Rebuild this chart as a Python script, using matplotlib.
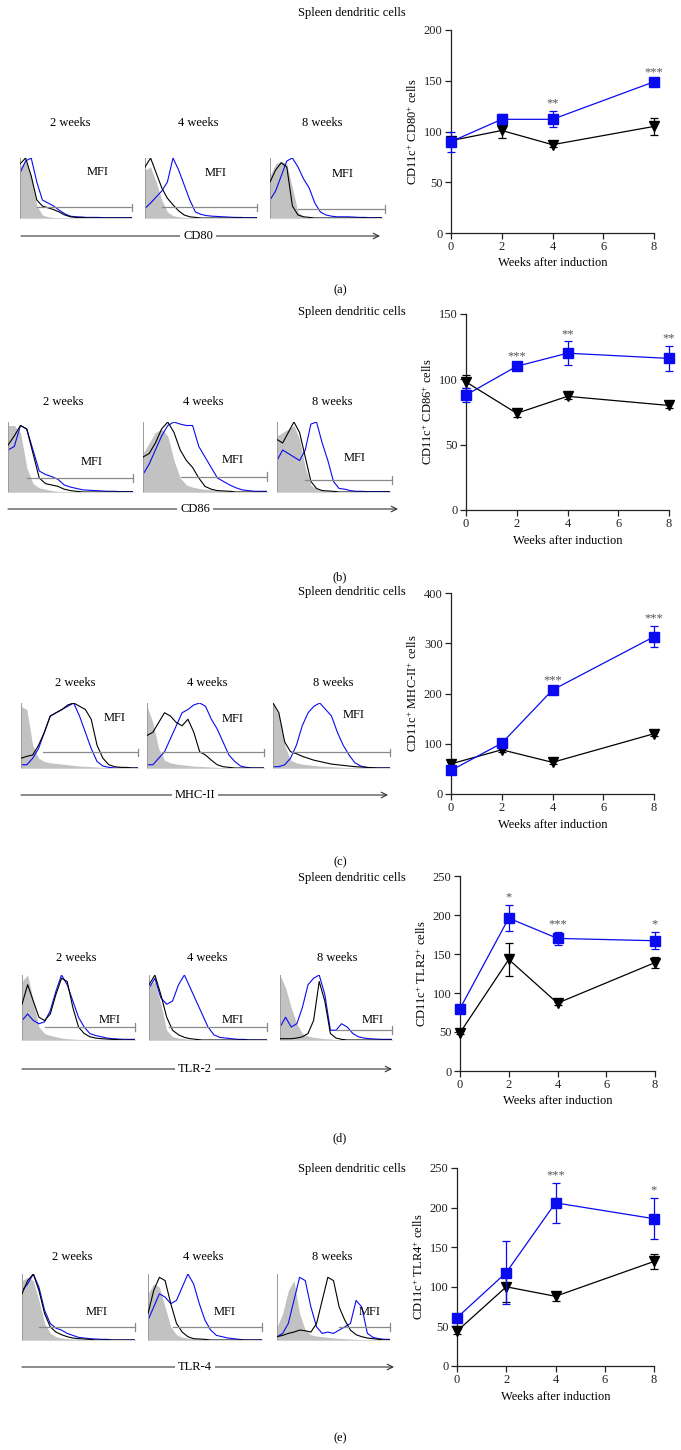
import matplotlib
matplotlib.use("Agg")
import matplotlib.pyplot as plt
import numpy as np

plt.rcParams["font.family"] = ["Liberation Serif", "DejaVu Serif"]
plt.rcParams["mathtext.fontset"] = "custom"
plt.rcParams["mathtext.rm"] = "Liberation Serif"
plt.rcParams["mathtext.it"] = "Liberation Serif:italic"

# ---------------- data: line charts ----------------
weeks = [0, 2, 4, 8]
week_labels = ["2 weeks", "4 weeks", "8 weeks"]

cd80_ctrl = [91, 101, 87, 105]
cd80_ctrl_err = [3, 7, 2, 8]
cd80_treat = [90, 112, 112, 149]
cd80_treat_err = [10, 5, 8, 2]
cd80_stars = ["", "", "**", "***"]

cd86_ctrl = [98, 74, 87, 80]
cd86_ctrl_err = [5, 3, 2, 2]
cd86_treat = [88, 110, 120, 116]
cd86_treat_err = [5, 2, 9, 9.5]
cd86_stars = ["", "***", "**", "**"]

mhc_ctrl = [60, 88, 63, 120]
mhc_ctrl_err = [3, 4, 3, 4]
mhc_treat = [47, 101, 207, 313]
mhc_treat_err = [5, 5, 5, 21]
mhc_stars = ["", "", "***", "***"]

tlr2_ctrl = [49, 143, 87, 139]
tlr2_ctrl_err = [2, 21, 2, 7]
tlr2_treat = [80, 196, 170, 167]
tlr2_treat_err = [3, 17, 8, 11]
tlr2_stars = ["", "*", "***", "*"]

tlr4_ctrl = [44, 100, 88, 132]
tlr4_ctrl_err = [3, 19, 6, 9]
tlr4_treat = [61, 118, 206, 186]
tlr4_treat_err = [3, 40, 25, 26]
tlr4_stars = ["", "", "***", "*"]

# ---------------- data: flow histograms (normalised counts on 21 bins) ----------------
cd80_2w_iso = [0.85, 0.95, 0.7, 0.2, 0.05, 0.02, 0.01, 0, 0, 0, 0, 0, 0, 0, 0, 0, 0, 0, 0, 0, 0]
cd80_2w_ctrl = [0.9, 1.0, 0.7, 0.3, 0.2, 0.17, 0.14, 0.1, 0.05, 0.02, 0.01, 0.01, 0, 0, 0, 0, 0, 0, 0, 0, 0]
cd80_2w_treat = [0.75, 0.95, 1.0, 0.6, 0.3, 0.25, 0.2, 0.13, 0.07, 0.03, 0.02, 0.015, 0.01, 0.01, 0.01, 0.005, 0.005, 0.005, 0.005, 0.005, 0.005]
cd80_4w_iso = [0.8, 0.85, 0.6, 0.3, 0.1, 0.04, 0.02, 0.01, 0, 0, 0, 0, 0, 0, 0, 0, 0, 0, 0, 0, 0]
cd80_4w_ctrl = [0.85, 1.0, 0.75, 0.5, 0.33, 0.22, 0.12, 0.05, 0.02, 0.01, 0, 0, 0, 0, 0, 0, 0, 0, 0, 0, 0]
cd80_4w_treat = [0.16, 0.25, 0.35, 0.45, 0.6, 1.0, 0.8, 0.55, 0.3, 0.1, 0.06, 0.04, 0.03, 0.025, 0.02, 0.015, 0.01, 0.01, 0.005, 0.005, 0.005]
cd80_8w_iso = [0.7, 0.9, 0.95, 0.9, 0.5, 0.1, 0.02, 0.01, 0, 0, 0, 0, 0, 0, 0, 0, 0, 0, 0, 0, 0]
cd80_8w_ctrl = [0.6, 0.8, 0.92, 0.85, 0.2, 0.05, 0.02, 0.01, 0, 0, 0, 0, 0, 0, 0, 0, 0, 0, 0, 0, 0]
cd80_8w_treat = [0.3, 0.45, 0.7, 0.95, 1.0, 0.85, 0.65, 0.5, 0.25, 0.1, 0.05, 0.03, 0.02, 0.02, 0.02, 0.015, 0.01, 0.01, 0.005, 0.005, 0.005]

cd86_2w_iso = [0.95, 0.95, 0.85, 0.35, 0.12, 0.06, 0.04, 0.02, 0.01, 0, 0, 0, 0, 0, 0, 0, 0, 0, 0, 0, 0]
cd86_2w_ctrl = [0.67, 0.8, 0.95, 0.9, 0.55, 0.2, 0.12, 0.1, 0.08, 0.04, 0.02, 0.01, 0, 0, 0, 0, 0, 0, 0, 0, 0]
cd86_2w_treat = [0.6, 0.65, 0.95, 0.9, 0.6, 0.3, 0.25, 0.22, 0.18, 0.1, 0.07, 0.05, 0.03, 0.025, 0.02, 0.015, 0.01, 0.01, 0.005, 0.005, 0.005]
cd86_4w_iso = [0.55, 0.7, 0.85, 0.9, 0.8, 0.45, 0.2, 0.1, 0.07, 0.05, 0.04, 0.03, 0.02, 0.015, 0.01, 0, 0, 0, 0, 0, 0]
cd86_4w_ctrl = [0.5, 0.55, 0.7, 0.9, 1.0, 0.85, 0.6, 0.45, 0.35, 0.2, 0.08, 0.04, 0.02, 0.015, 0.01, 0, 0, 0, 0, 0, 0]
cd86_4w_treat = [0.25, 0.4, 0.6, 0.8, 0.95, 1.0, 0.97, 0.95, 0.95, 0.65, 0.5, 0.35, 0.2, 0.15, 0.1, 0.06, 0.03, 0.02, 0.01, 0.01, 0.01]
cd86_8w_iso = [0.8, 0.85, 0.9, 0.95, 0.75, 0.35, 0.1, 0.04, 0.02, 0.015, 0.01, 0, 0, 0, 0, 0, 0, 0, 0, 0, 0]
cd86_8w_ctrl = [0.75, 0.7, 0.85, 1.0, 0.85, 0.5, 0.15, 0.05, 0.02, 0.015, 0.01, 0, 0, 0, 0, 0, 0, 0, 0, 0, 0]
cd86_8w_treat = [0.45, 0.6, 0.55, 0.5, 0.45, 0.6, 0.97, 1.0, 0.7, 0.45, 0.15, 0.05, 0.04, 0.02, 0.01, 0.01, 0.005, 0.005, 0.005, 0.005, 0.005]

mhc_2w_iso = [0.95, 0.9, 0.35, 0.15, 0.1, 0.08, 0.07, 0.06, 0.05, 0.04, 0.03, 0.025, 0.02, 0.015, 0.01, 0.005, 0, 0, 0, 0, 0]
mhc_2w_ctrl = [0.15, 0.18, 0.2, 0.35, 0.55, 0.8, 0.85, 0.9, 0.97, 1.0, 0.95, 0.9, 0.75, 0.35, 0.15, 0.05, 0.02, 0.01, 0.01, 0, 0]
mhc_2w_treat = [0.05, 0.05, 0.15, 0.3, 0.55, 0.8, 0.85, 0.9, 0.95, 1.0, 0.8, 0.55, 0.3, 0.1, 0.03, 0.01, 0, 0, 0, 0, 0]
mhc_4w_iso = [0.95, 0.7, 0.3, 0.12, 0.08, 0.06, 0.05, 0.04, 0.03, 0.025, 0.02, 0.015, 0.01, 0.005, 0, 0, 0, 0, 0, 0, 0]
mhc_4w_ctrl = [0.5, 0.55, 0.7, 0.85, 0.8, 0.7, 0.65, 0.75, 0.55, 0.25, 0.2, 0.12, 0.05, 0.02, 0.01, 0, 0, 0, 0, 0, 0]
mhc_4w_treat = [0.05, 0.05, 0.15, 0.25, 0.45, 0.65, 0.85, 0.9, 0.97, 1.0, 0.95, 0.75, 0.6, 0.4, 0.2, 0.1, 0.03, 0.01, 0, 0, 0]
mhc_8w_iso = [1.0, 0.8, 0.35, 0.12, 0.08, 0.06, 0.05, 0.04, 0.03, 0.025, 0.02, 0.015, 0.01, 0.005, 0, 0, 0, 0, 0, 0, 0]
mhc_8w_ctrl = [1.0, 0.85, 0.4, 0.25, 0.22, 0.18, 0.15, 0.12, 0.1, 0.08, 0.06, 0.05, 0.04, 0.03, 0.02, 0.015, 0.01, 0.005, 0, 0, 0]
mhc_8w_treat = [0.02, 0.02, 0.05, 0.15, 0.35, 0.65, 0.85, 0.95, 1.0, 0.9, 0.8, 0.55, 0.35, 0.2, 0.08, 0.03, 0.01, 0, 0, 0, 0]

tlr2_2w_iso = [0.9, 1.0, 0.6, 0.2, 0.1, 0.07, 0.05, 0.03, 0.02, 0.015, 0.01, 0, 0, 0, 0, 0, 0, 0, 0, 0, 0]
tlr2_2w_ctrl = [0.55, 0.85, 0.6, 0.35, 0.3, 0.4, 0.7, 0.95, 0.9, 0.5, 0.2, 0.1, 0.05, 0.03, 0.02, 0.015, 0.01, 0.005, 0, 0, 0]
tlr2_2w_treat = [0.3, 0.4, 0.3, 0.25, 0.28, 0.45, 0.75, 1.0, 0.85, 0.6, 0.35, 0.2, 0.1, 0.07, 0.05, 0.03, 0.02, 0.015, 0.01, 0.01, 0.01]
tlr2_4w_iso = [0.85, 0.9, 0.55, 0.15, 0.05, 0.03, 0.02, 0.01, 0, 0, 0, 0, 0, 0, 0, 0, 0, 0, 0, 0, 0]
tlr2_4w_ctrl = [0.85, 1.0, 0.7, 0.35, 0.15, 0.08, 0.04, 0.02, 0.01, 0, 0, 0, 0, 0, 0, 0, 0, 0, 0, 0, 0]
tlr2_4w_treat = [0.8, 0.95, 0.65, 0.55, 0.6, 0.85, 1.0, 0.8, 0.6, 0.4, 0.2, 0.08, 0.04, 0.03, 0.02, 0.01, 0.01, 0, 0, 0, 0]
tlr2_8w_iso = [1.0, 0.8, 0.5, 0.25, 0.1, 0.06, 0.04, 0.03, 0.02, 0.015, 0.01, 0, 0, 0, 0, 0, 0, 0, 0, 0, 0]
tlr2_8w_ctrl = [0.02, 0.02, 0.02, 0.03, 0.05, 0.1, 0.3, 0.9, 0.6, 0.1, 0.03, 0.01, 0, 0, 0, 0, 0, 0, 0, 0, 0]
tlr2_8w_treat = [0.2, 0.35, 0.2, 0.25, 0.5, 0.85, 0.95, 1.0, 0.7, 0.15, 0.15, 0.25, 0.2, 0.1, 0.05, 0.03, 0.02, 0.015, 0.01, 0.01, 0.01]

tlr4_2w_iso = [0.9, 0.95, 0.9, 0.6, 0.25, 0.1, 0.05, 0.03, 0.02, 0.015, 0.01, 0, 0, 0, 0, 0, 0, 0, 0, 0, 0]
tlr4_2w_ctrl = [0.7, 0.9, 1.0, 0.75, 0.4, 0.2, 0.12, 0.08, 0.05, 0.03, 0.02, 0.015, 0.01, 0, 0, 0, 0, 0, 0, 0, 0]
tlr4_2w_treat = [0.75, 0.85, 1.0, 0.8, 0.45, 0.25, 0.18, 0.15, 0.1, 0.07, 0.04, 0.03, 0.02, 0.015, 0.01, 0.01, 0, 0, 0, 0, 0]
tlr4_4w_iso = [0.7, 0.85, 0.8, 0.5, 0.2, 0.08, 0.04, 0.03, 0.02, 0.015, 0.01, 0, 0, 0, 0, 0, 0, 0, 0, 0, 0]
tlr4_4w_ctrl = [0.4, 0.75, 0.95, 0.9, 0.55, 0.25, 0.12, 0.05, 0.02, 0.015, 0.01, 0, 0, 0, 0, 0, 0, 0, 0, 0, 0]
tlr4_4w_treat = [0.3, 0.5, 0.7, 0.65, 0.55, 0.6, 0.8, 1.0, 0.85, 0.55, 0.3, 0.15, 0.07, 0.05, 0.03, 0.02, 0.01, 0, 0, 0, 0]
tlr4_8w_iso = [0.2, 0.4, 0.75, 0.9, 0.4, 0.15, 0.08, 0.06, 0.05, 0.04, 0.03, 0.025, 0.02, 0.015, 0.01, 0, 0, 0, 0, 0, 0]
tlr4_8w_ctrl = [0.05, 0.07, 0.1, 0.12, 0.15, 0.14, 0.12, 0.25, 0.6, 0.95, 0.9, 0.5, 0.3, 0.15, 0.08, 0.05, 0.03, 0.02, 0.01, 0, 0]
tlr4_8w_treat = [0.05, 0.1, 0.25, 0.6, 0.95, 0.9, 0.5, 0.2, 0.1, 0.12, 0.1, 0.15, 0.2, 0.25, 0.6, 0.5, 0.1, 0.04, 0.02, 0.01, 0.01]

# ---------------- styles / layout (pixels) ----------------
W, H = 681, 1450
BLUE = "#0a0af0"
GRAY = "#c2c2c2"
FS = 9

fig = plt.figure(figsize=(W / 100, H / 100), dpi=100)
ov = fig.add_axes([0, 0, 1, 1])
ov.set_xlim(0, W)
ov.set_ylim(H, 0)
ov.axis("off")


def box(x0, y0, x1, y1):
    return [x0 / W, 1 - y1 / H, (x1 - x0) / W, (y1 - y0) / H]


panels = [
    dict(tag="(a)", marker="CD80", ylabel=r"CD11c$^{+}$ CD80$^{+}$ cells", ymax=200, ystep=50,
         ctrl=cd80_ctrl, ctrl_err=cd80_ctrl_err, treat=cd80_treat, treat_err=cd80_treat_err, stars=cd80_stars,
         hists=[(cd80_2w_iso, cd80_2w_ctrl, cd80_2w_treat), (cd80_4w_iso, cd80_4w_ctrl, cd80_4w_treat),
                (cd80_8w_iso, cd80_8w_ctrl, cd80_8w_treat)]),
    dict(tag="(b)", marker="CD86", ylabel=r"CD11c$^{+}$ CD86$^{+}$ cells", ymax=150, ystep=50,
         ctrl=cd86_ctrl, ctrl_err=cd86_ctrl_err, treat=cd86_treat, treat_err=cd86_treat_err, stars=cd86_stars,
         hists=[(cd86_2w_iso, cd86_2w_ctrl, cd86_2w_treat), (cd86_4w_iso, cd86_4w_ctrl, cd86_4w_treat),
                (cd86_8w_iso, cd86_8w_ctrl, cd86_8w_treat)]),
    dict(tag="(c)", marker="MHC-II", ylabel=r"CD11c$^{+}$ MHC-II$^{+}$ cells", ymax=400, ystep=100,
         ctrl=mhc_ctrl, ctrl_err=mhc_ctrl_err, treat=mhc_treat, treat_err=mhc_treat_err, stars=mhc_stars,
         hists=[(mhc_2w_iso, mhc_2w_ctrl, mhc_2w_treat), (mhc_4w_iso, mhc_4w_ctrl, mhc_4w_treat),
                (mhc_8w_iso, mhc_8w_ctrl, mhc_8w_treat)]),
    dict(tag="(d)", marker="TLR-2", ylabel=r"CD11c$^{+}$ TLR2$^{+}$ cells", ymax=250, ystep=50,
         ctrl=tlr2_ctrl, ctrl_err=tlr2_ctrl_err, treat=tlr2_treat, treat_err=tlr2_treat_err, stars=tlr2_stars,
         hists=[(tlr2_2w_iso, tlr2_2w_ctrl, tlr2_2w_treat), (tlr2_4w_iso, tlr2_4w_ctrl, tlr2_4w_treat),
                (tlr2_8w_iso, tlr2_8w_ctrl, tlr2_8w_treat)]),
    dict(tag="(e)", marker="TLR-4", ylabel=r"CD11c$^{+}$ TLR4$^{+}$ cells", ymax=250, ystep=50,
         ctrl=tlr4_ctrl, ctrl_err=tlr4_ctrl_err, treat=tlr4_treat, treat_err=tlr4_treat_err, stars=tlr4_stars,
         hists=[(tlr4_2w_iso, tlr4_2w_ctrl, tlr4_2w_treat), (tlr4_4w_iso, tlr4_4w_ctrl, tlr4_4w_treat),
                (tlr4_8w_iso, tlr4_8w_ctrl, tlr4_8w_treat)]),
]

layout = [
    dict(chart=(451, 30, 654, 233), title_y=13, hy=(158, 218), hx=[(20, 132), (145, 257), (270, 382)],
         week_y=123, week_x=[70, 198, 322], arrow=(21, 380, 236), mlabel_x=198, tag_y=290,
         gates=[(0.155, 1.0, 0.18), (0.155, 1.0, 0.18), (0.25, 1.03, 0.15)],
         mfi=[(0.69, 0.77), (0.63, 0.75), (0.65, 0.73)]),
    dict(chart=(466, 314, 669, 510), title_y=312, hy=(422, 492), hx=[(8, 133), (143, 267), (277, 390)],
         week_y=402, week_x=[63, 203, 332], arrow=(8, 398, 509), mlabel_x=195, tag_y=577,
         gates=[(0.15, 1.0, 0.2), (0.31, 1.0, 0.22), (0.245, 1.02, 0.17)],
         mfi=[(0.67, 0.43), (0.72, 0.46), (0.69, 0.49)]),
    dict(chart=(451, 593, 654, 794), title_y=592, hy=(703, 768), hx=[(21, 138), (147, 264), (273, 390)],
         week_y=683, week_x=[75, 207, 333], arrow=(21, 388, 795), mlabel_x=195, tag_y=862,
         gates=[(0.19, 1.0, 0.24), (0.13, 1.0, 0.24), (0.16, 1.0, 0.24)],
         mfi=[(0.8, 0.77), (0.73, 0.75), (0.69, 0.82)]),
    dict(chart=(460, 876, 655, 1071), title_y=878, hy=(975, 1040), hx=[(22, 135), (149, 267), (280, 392)],
         week_y=958, week_x=[76, 207, 337], arrow=(22, 392, 1069), mlabel_x=195, tag_y=1138,
         gates=[(0.2, 1.0, 0.2), (0.17, 1.0, 0.2), (0.5, 1.0, 0.15)],
         mfi=[(0.78, 0.31), (0.71, 0.31), (0.83, 0.31)]),
    dict(chart=(457, 1168, 654, 1366), title_y=1169, hy=(1274, 1340), hx=[(22, 135), (148, 262), (277, 390)],
         week_y=1257, week_x=[72, 203, 332], arrow=(22, 394, 1367), mlabel_x=195, tag_y=1438,
         gates=[(0.15, 1.0, 0.2), (0.22, 1.0, 0.2), (0.55, 1.0, 0.2)],
         mfi=[(0.66, 0.42), (0.67, 0.42), (0.82, 0.42)]),
]

hist_x = np.linspace(0, 1, 21)

for p, L in zip(panels, layout):
    # ---- line chart ----
    x0, y0, x1, y1 = L["chart"]
    ax = fig.add_axes(box(x0, y0, x1, y1))
    ax.set_facecolor("none")
    ax.errorbar(weeks, p["ctrl"], yerr=p["ctrl_err"], color="black", lw=0.9, marker="v", ms=7,
                capsize=3, elinewidth=0.9, capthick=0.9, clip_on=False, zorder=3)
    ax.errorbar(weeks, p["treat"], yerr=p["treat_err"], color=BLUE, lw=0.9, marker="s", ms=6.5,
                capsize=3, elinewidth=0.9, capthick=0.9, clip_on=False, zorder=4)
    for wk, v, e, s in zip(weeks, p["treat"], p["treat_err"], p["stars"]):
        if s:
            ax.annotate(s, (wk, v + e), xytext=(0, 1), textcoords="offset points", ha="center",
                        va="bottom", fontsize=FS, color="#555555")
    ax.set_xlim(0, 8)
    ax.set_ylim(0, p["ymax"])
    ax.set_xticks([0, 2, 4, 6, 8])
    ax.set_yticks(np.arange(0, p["ymax"] + 1, p["ystep"]))
    for sp in ("top", "right"):
        ax.spines[sp].set_visible(False)
    for sp in ("left", "bottom"):
        ax.spines[sp].set_linewidth(0.9)
        ax.spines[sp].set_color("#222222")
    ax.tick_params(direction="out", length=4, width=0.9, labelsize=FS, colors="#222222", pad=2)
    ax.set_xlabel("Weeks after induction", fontsize=FS, labelpad=3)
    ax.set_ylabel(p["ylabel"], fontsize=FS, labelpad=3)

    ov.text(352, L["title_y"], "Spleen dendritic cells", ha="center", va="center", fontsize=FS)
    ov.text(340, L["tag_y"], p["tag"], ha="center", va="center", fontsize=FS)

    # ---- histograms ----
    hy0, hy1 = L["hy"]
    for k, ((hx0, hx1), (iso, ctrl, treat)) in enumerate(zip(L["hx"], p["hists"])):
        hax = fig.add_axes(box(hx0, hy0, hx1, hy1))
        hax.set_facecolor("none")
        hax.fill_between(hist_x, iso, color=GRAY, lw=0, zorder=1)
        hax.plot(hist_x, ctrl, color="black", lw=0.8, zorder=3)
        hax.plot(hist_x, treat, color=BLUE, lw=0.8, zorder=2)
        gs, ge, gy = L["gates"][k]
        hax.plot([gs, ge], [gy, gy], color="#8a8a8a", lw=0.9, clip_on=False, zorder=4)
        hax.plot([ge, ge], [gy - 0.06, gy + 0.06], color="#8a8a8a", lw=0.9, clip_on=False, zorder=4)
        mx, my = L["mfi"][k]
        hax.text(mx, my, "MFI", ha="center", va="center", fontsize=FS, transform=hax.transAxes)
        hax.set_xlim(0, 1)
        hax.set_ylim(0, 1)
        hax.set_xticks([])
        hax.set_yticks([])
        for sp in ("top", "right"):
            hax.spines[sp].set_visible(False)
        hax.spines["left"].set_color("#9a9a9a")
        hax.spines["left"].set_linewidth(0.7)
        hax.spines["bottom"].set_color("#d0d0d0")
        hax.spines["bottom"].set_linewidth(0.6)
        ov.text(L["week_x"][k], L["week_y"], week_labels[k], ha="center", va="center", fontsize=FS)

    ax0, ax1, ay = L["arrow"]
    ov.annotate("", xy=(ax1, ay), xytext=(ax0, ay),
                arrowprops=dict(arrowstyle="->", lw=0.8, color="#333333", shrinkA=0, shrinkB=0))
    ov.text(L["mlabel_x"], ay, p["marker"], ha="center", va="center", fontsize=FS,
            bbox=dict(facecolor="white", edgecolor="none", pad=2))

fig.savefig("out.png", dpi=100)
